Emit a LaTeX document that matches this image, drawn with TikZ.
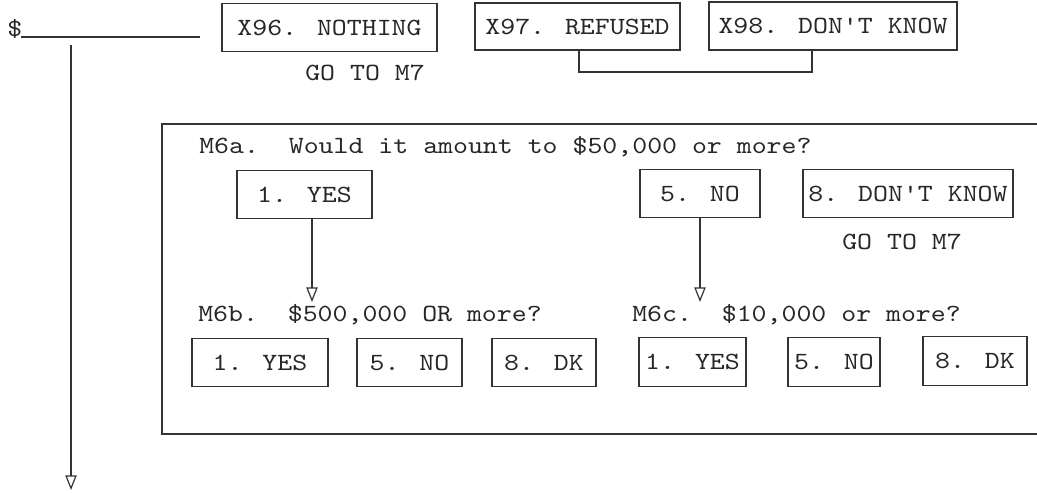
\documentclass[tikz,border=0pt]{standalone}
\usepackage{fontspec}
\newfontfamily\courfont{lmmono10-regular.otf}[FakeStretch=1.15]
\usetikzlibrary{arrows.meta}
\begin{document}
\begin{tikzpicture}[x=0.75pt,y=-0.75pt,
  every node/.style={font=\courfont\fontsize{18.55}{20}\selectfont, text=black!85},
  optbox/.style={draw=black!80, line width=0.9pt, inner sep=0pt, minimum height=36.5pt, anchor=center},
  txt/.style={inner sep=0pt, anchor=base west},
  ln/.style={draw=black!80, line width=0.9pt},
  arr/.style={ln, -{Triangle[open, length=11pt, width=8.5pt]}}]
\useasboundingbox (0,0) rectangle (1037,492);
% top line
\node[txt] (dollar) at (7,37) {\$};
\coordinate (ulend) at (200,37);
\draw[ln] (21,37) -- (ulend);
\coordinate (vstart) at (71,45);
\coordinate (vend) at (71,490);
\draw[arr] (vstart) -- (vend);
% top boxes
\node[optbox, minimum width=161.25pt] (x96) at (329.5,27.5) {X96. NOTHING};
\node[optbox, minimum width=153.75pt, minimum height=35.25pt] (x97) at (577.5,26.5) {X97. REFUSED};
\node[optbox, minimum width=186pt, minimum height=36pt] (x98) at (833,26) {X98. DON'T KNOW};
\node[txt] (goto1) at (305,80) {GO TO M7};
\coordinate (bl) at (579,72);
\coordinate (br) at (812,72);
\draw[ln] (x97.south -| bl) -- (bl) -- (br) -- (x98.south -| br);
% frame
\draw[ln] (1037,124) -- (162,124) -- (162,434) -- (1037,434);
% M6a
\node[txt] (q6a) at (199,153) {M6a.~~Would it amount to \$50,000 or more?};
\node[optbox, minimum width=101.25pt] (yes1) at (304.5,194.5) {1. YES};
\node[optbox, minimum width=90pt] (no1) at (700,193.5) {5. NO};
\node[optbox, minimum width=157.5pt] (dk1) at (908,193.5) {8. DON'T KNOW};
\node[txt] (goto2) at (842,249) {GO TO M7};
\coordinate (t1) at (312,302);
\coordinate (t2) at (700,302);
\draw[arr] (yes1.south -| t1) -- (t1);
\draw[arr] (no1.south) -- (t2);
% M6b / M6c
\node[txt] (q6b) at (198,321) {M6b.~~\$500,000 OR more?};
\node[txt] (q6c) at (632,321) {M6c.~~\$10,000 or more?};
\node[optbox, minimum width=102pt] (byes) at (260,362.5) {1. YES};
\node[optbox, minimum width=78.75pt] (bno) at (409.5,362.5) {5. NO};
\node[optbox, minimum width=78pt] (bdk) at (544,362.5) {8. DK};
\node[optbox, minimum width=80.25pt] (cyes) at (692.5,362) {1. YES};
\node[optbox, minimum width=69pt] (cno) at (834,362) {5. NO};
\node[optbox, minimum width=78pt] (cdk) at (975,361) {8. DK};
\end{tikzpicture}
\end{document}
